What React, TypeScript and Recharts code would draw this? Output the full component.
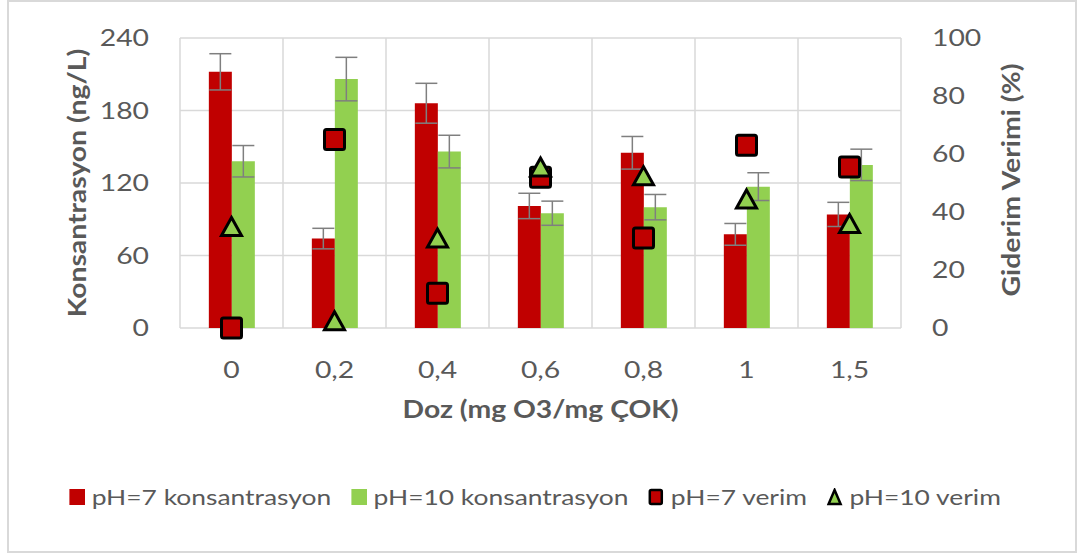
import {
  ComposedChart, Bar, Line, XAxis, YAxis, CartesianGrid,
  ErrorBar, Legend,
} from 'recharts';

const categories = ['0', '0,2', '0,4', '0,6', '0,8', '1', '1,5'];
const ph7Kons = [212, 74, 186, 101, 145, 77.5, 94];
const ph7KonsErr = [15, 8.5, 16.5, 10.5, 13.5, 9, 10];
const ph10Kons = [138, 206, 146, 95, 100, 117, 135];
const ph10KonsErr = [13, 18, 13.5, 10, 10.5, 11.5, 13];
const ph7Verim = [0, 65, 12, 52, 31, 63, 55.5];
const ph10Verim = [35, 2.5, 31, 55.5, 52.5, 44.5, 36];

const leftTicks = [0, 60, 120, 180, 240];
const rightTicks = [0, 20, 40, 60, 80, 100];
const legendOrder = ['k7', 'k10', 'v7', 'v10'];

const RED = '#C00000';
const GREEN = '#92D050';
const TEXT = '#595959';
const GRID = '#D9D9D9';
const FONT = 'Lato, "Open Sans", sans-serif';
// the original is a bit wider than Lato, stretch text horizontally
const SX = 1.18;
const LEGEND_SX = 1.2;

const data = categories.map((c, i) => ({
  doz: c,
  k7: ph7Kons[i],
  k7err: ph7KonsErr[i],
  k10: ph10Kons[i],
  k10err: ph10KonsErr[i],
  v7: ph7Verim[i],
  v10: ph10Verim[i],
}));

function SquareDot(props: any) {
  const { cx, cy } = props;
  if (cx == null || cy == null) return null;
  return (
    <rect x={cx - 10} y={cy - 10} width={20} height={20} rx={2}
      fill={RED} stroke="#000" strokeWidth={3} />
  );
}

function TriangleDot(props: any) {
  const { cx, cy } = props;
  if (cx == null || cy == null) return null;
  return (
    <polygon
      points={`${cx},${cy - 9} ${cx + 10},${cy + 9} ${cx - 10},${cy + 9}`}
      fill={GREEN} stroke="#000" strokeWidth={3} strokeLinejoin="miter" />
  );
}

function AxisTick(props: any) {
  const { x, y, payload, textAnchor, dy } = props;
  return (
    <text transform={`translate(${x},${y}) scale(${SX},1)`} textAnchor={textAnchor}
      dy={dy} fill={TEXT} fontSize={24} fontFamily={FONT}>
      {payload.value}
    </text>
  );
}

function VTitle({ x, y, text }: { x: number; y: number; text: string }) {
  return (
    <text transform={`translate(${x},${y}) rotate(-90) scale(${SX},1)`}
      textAnchor="middle" dominantBaseline="central" fill={TEXT}
      fontSize={24} fontWeight={700} fontFamily={FONT}>
      {text}
    </text>
  );
}

function legendIcon(key: string) {
  const w = 16 / LEGEND_SX;
  if (key === 'k7') return <span style={{ display: 'inline-block', width: w, height: 16, background: RED }} />;
  if (key === 'k10') return <span style={{ display: 'inline-block', width: w, height: 16, background: GREEN }} />;
  if (key === 'v7') {
    return (
      <svg width={w} height={18} viewBox="0 0 16 18" preserveAspectRatio="none">
        <rect x={2} y={2} width={12} height={14} rx={1.5} fill={RED} stroke="#000" strokeWidth={2.5} />
      </svg>
    );
  }
  return (
    <svg width={w} height={18} viewBox="0 0 16 18" preserveAspectRatio="none">
      <polygon points="8,2 14,16 2,16" fill={GREEN} stroke="#000" strokeWidth={2.5} />
    </svg>
  );
}

function renderLegend(props: any) {
  const { payload = [] } = props;
  const items = legendOrder
    .map(k => payload.find((p: any) => p.dataKey === k))
    .filter(Boolean);
  return (
    <div style={{
      display: 'flex', justifyContent: 'center', alignItems: 'center',
      paddingRight: 11, fontFamily: FONT, fontSize: 22, color: TEXT,
      transform: `scaleX(${LEGEND_SX})`, transformOrigin: '541px 50%',
    }}>
      {items.map((p: any, i: number) => (
        <span key={p.dataKey} style={{ display: 'inline-flex', alignItems: 'center', marginRight: i < items.length - 1 ? 16.5 : 0 }}>
          {legendIcon(p.dataKey)}
          <span style={{ marginLeft: 5.5 }}>{p.value}</span>
        </span>
      ))}
    </div>
  );
}

export default function App() {
  return (
    <div style={{ position: 'absolute', left: 0, top: 0, width: 1083, height: 555, background: '#fff' }}>
      <div style={{
        position: 'absolute', left: 7, top: 0, width: 1070, height: 553,
        border: `2px solid ${GRID}`, boxSizing: 'border-box',
      }} />
      <div style={{ position: 'absolute', left: 0, top: 0 }}>
        <ComposedChart
          width={1083}
          height={555}
          data={data}
          margin={{ top: 38, right: 0, left: 0, bottom: 127 }}
          barCategoryGap="28%"
          barGap={0}
        >
          <CartesianGrid
            yAxisId="left"
            stroke={GRID}
            strokeWidth={1.5}
            verticalCoordinatesGenerator={({ offset }: any) =>
              Array.from({ length: categories.length + 1 }, (_, i) =>
                offset.left + (i * offset.width) / categories.length)
            }
          />
          <XAxis
            dataKey="doz"
            height={100}
            axisLine={false}
            tickLine={false}
            tickSize={0}
            tickMargin={33}
            tick={<AxisTick dy="0.71em" />}
            label={({ viewBox }: any) => (
              <text transform={`translate(${viewBox.x + viewBox.width / 2},${viewBox.y + 90}) scale(${SX},1)`}
                textAnchor="middle" fill={TEXT} fontSize={24} fontWeight={700} fontFamily={FONT}>
                Doz (mg O3/mg ÇOK)
              </text>
            )}
          />
          <YAxis
            yAxisId="left"
            width={180}
            domain={[0, 240]}
            ticks={leftTicks}
            axisLine={false}
            tickLine={false}
            tickSize={0}
            tickMargin={31}
            tick={<AxisTick dy="0.35em" />}
            label={({ viewBox }: any) => (
              <VTitle x={77} y={viewBox.y + viewBox.height / 2} text="Konsantrasyon (ng/L)" />
            )}
          />
          <YAxis
            yAxisId="right"
            orientation="right"
            width={182}
            domain={[0, 100]}
            ticks={rightTicks}
            axisLine={false}
            tickLine={false}
            tickSize={0}
            tickMargin={31}
            tick={<AxisTick dy="0.35em" />}
            label={({ viewBox }: any) => (
              <VTitle x={viewBox.x + 110} y={viewBox.y + viewBox.height / 2 - 3} text="Giderim Verimi (%)" />
            )}
          />
          <Bar yAxisId="left" dataKey="k7" name="pH=7 konsantrasyon" fill={RED} isAnimationActive={false}>
            <ErrorBar dataKey="k7err" direction="y" width={11} stroke="#7F7F7F" strokeWidth={1.5} />
          </Bar>
          <Bar yAxisId="left" dataKey="k10" name="pH=10 konsantrasyon" fill={GREEN} isAnimationActive={false}>
            <ErrorBar dataKey="k10err" direction="y" width={11} stroke="#7F7F7F" strokeWidth={1.5} />
          </Bar>
          <Line yAxisId="right" dataKey="v7" name="pH=7 verim" stroke="none" dot={<SquareDot />}
            activeDot={false} isAnimationActive={false} />
          <Line yAxisId="right" dataKey="v10" name="pH=10 verim" stroke="none" dot={<TriangleDot />}
            activeDot={false} isAnimationActive={false} />
          <Legend
            layout="horizontal"
            verticalAlign="middle"
            align="center"
            wrapperStyle={{ top: 483, left: 0, width: 1083 }}
            content={renderLegend}
          />
        </ComposedChart>
      </div>
    </div>
  );
}
